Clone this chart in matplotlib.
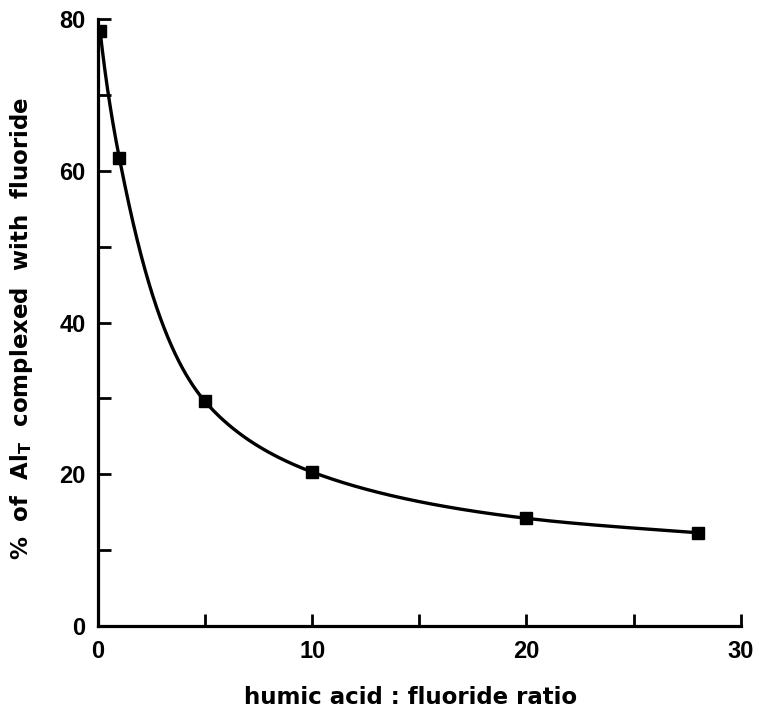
import numpy as np
import matplotlib
matplotlib.use("Agg")
import matplotlib.pyplot as plt
from matplotlib.ticker import MultipleLocator

# data
ratio = [0.1, 1, 5, 10, 20, 28]
pct_complexed = [78.5, 61.7, 29.6, 20.3, 14.2, 12.3]

x_label = "humic acid : fluoride ratio"
y_label = r"%  of  Al$_\mathregular{T}$  complexed  with  fluoride"


def pchip(x, y, xs):
    """monotone cubic through the points, just for drawing the smooth line"""
    x = np.asarray(x, float)
    y = np.asarray(y, float)
    h = np.diff(x)
    d = np.diff(y) / h
    m = np.zeros_like(y)
    for k in range(1, len(x) - 1):
        if d[k - 1] * d[k] > 0:
            w1 = 2 * h[k] + h[k - 1]
            w2 = h[k] + 2 * h[k - 1]
            m[k] = (w1 + w2) / (w1 / d[k - 1] + w2 / d[k])
    m[0] = d[0]
    m[-1] = d[-1]
    idx = np.clip(np.searchsorted(x, xs) - 1, 0, len(x) - 2)
    t = (xs - x[idx]) / h[idx]
    h00 = 2 * t**3 - 3 * t**2 + 1
    h10 = t**3 - 2 * t**2 + t
    h01 = -2 * t**3 + 3 * t**2
    h11 = t**3 - t**2
    return h00 * y[idx] + h10 * h[idx] * m[idx] + h01 * y[idx + 1] + h11 * h[idx] * m[idx + 1]


def smooth_curve(x, y, n=400):
    # spline against log(x+1) so the line bends like the hand-drawn one
    u = np.log(np.asarray(x, float) + 1)
    us = np.linspace(u[0], u[-1], n)
    return np.exp(us) - 1, pchip(u, y, us)


plt.rcParams["font.family"] = ["DejaVu Sans"]
plt.rcParams["font.weight"] = "bold"

fig = plt.figure(figsize=(7.59, 7.09), dpi=100)
ax = fig.add_axes([0.129, 0.117, 0.847, 0.856])

xs, ys = smooth_curve(ratio, pct_complexed)
ax.plot(xs, ys, color="black", lw=2.4)
ax.plot(ratio, pct_complexed, "s", color="black", ms=8.5)

ax.set_xlim(0, 30)
ax.set_ylim(0, 80)
ax.xaxis.set_major_locator(MultipleLocator(10))
ax.xaxis.set_minor_locator(MultipleLocator(5))
ax.yaxis.set_major_locator(MultipleLocator(20))
ax.yaxis.set_minor_locator(MultipleLocator(10))

for s in ["top", "right"]:
    ax.spines[s].set_visible(False)
for s in ["left", "bottom"]:
    ax.spines[s].set_linewidth(2.3)

ax.tick_params(which="both", direction="in", length=9, width=2.0)
ax.tick_params(axis="x", pad=10)
ax.tick_params(axis="y", pad=9)
for lab in ax.get_xticklabels() + ax.get_yticklabels():
    lab.set_fontfamily(["Liberation Sans", "DejaVu Sans"])
    lab.set_fontsize(17)
    lab.set_fontweight("bold")

ax.set_xlabel(x_label, fontsize=16.5, fontweight="bold")
ax.xaxis.set_label_coords(0.487, -0.098, transform=ax.transAxes)
ax.xaxis.label.set_va("top")
ax.set_ylabel(y_label, fontsize=16.5, fontweight="bold")
ax.yaxis.set_label_coords(-0.098, 0.49)

fig.savefig("out.png", dpi=100)
